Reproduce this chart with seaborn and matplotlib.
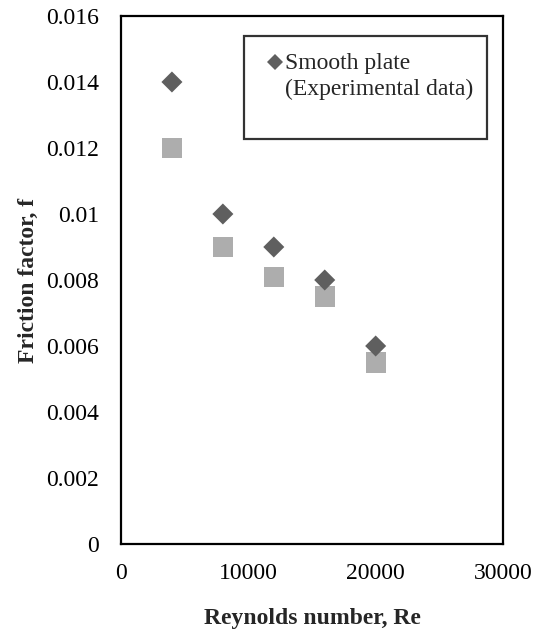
import matplotlib
matplotlib.use("Agg")
import matplotlib.pyplot as plt
import seaborn as sns
import pandas as pd
from matplotlib.lines import Line2D

sns.set_style("white")
plt.rcParams['font.family'] = ['Liberation Serif', 'DejaVu Serif']

reynolds = [4000, 8000, 12000, 16000, 20000]
f_smooth = [0.0140, 0.0100, 0.0090, 0.0080, 0.0060]
f_second = [0.0120, 0.0090, 0.0081, 0.0075, 0.0055]
x_ticks = [0, 10000, 20000, 30000]
y_ticks = [0, 0.002, 0.004, 0.006, 0.008, 0.01, 0.012, 0.014, 0.016]
y_tick_labels = ["0", "0.002", "0.004", "0.006", "0.008", "0.01", "0.012", "0.014", "0.016"]
legend_lines = ["Smooth plate", "(Experimental data)", " "]

dark = "#5f5f5f"
light = "#adadad"

fig = plt.figure(figsize=(5.43, 6.34), dpi=100)
ax = fig.add_axes([121/543, 90/634, 382/543, 528/634])

df1 = pd.DataFrame({"Re": reynolds, "f": f_smooth})
df2 = pd.DataFrame({"Re": reynolds, "f": f_second})
sns.scatterplot(data=df2, x="Re", y="f", marker="s", s=210, color=light,
                edgecolor="none", linewidth=0, ax=ax, legend=False, zorder=3)
sns.scatterplot(data=df1, x="Re", y="f", marker="D", s=115, color=dark,
                edgecolor="none", linewidth=0, ax=ax, legend=False, zorder=4)

ax.set_xlim(0, 30000)
ax.set_ylim(0, 0.016)
ax.set_xticks(x_ticks)
ax.set_xticklabels([str(t) for t in x_ticks])
ax.set_yticks(y_ticks)
ax.set_yticklabels(y_tick_labels)
ax.tick_params(axis="both", direction="out", length=6, width=1.3, colors="black",
               labelsize=17)
ax.tick_params(axis="y", pad=10)
ax.tick_params(axis="x", pad=8)
for sp in ax.spines.values():
    sp.set_visible(True)
    sp.set_color("black")
    sp.set_linewidth(1.6)

ax.set_xlabel("Reynolds number, Re", fontsize=17, fontweight="bold", labelpad=17)
ax.set_ylabel("Friction factor, f", fontsize=17, fontweight="bold", labelpad=5)

h_marker = Line2D([], [], marker="D", linestyle="none", color=dark, markersize=8.5,
                  markeredgewidth=0)
h_blank = Line2D([], [], linestyle="none", marker=None)
leg = ax.legend([h_marker, h_blank, h_blank], legend_lines,
                loc="upper left", bbox_to_anchor=(0.322, 0.773, 0.636, 0.189),
                mode="expand", fontsize=17, frameon=True, fancybox=False,
                handlelength=1.2, handleheight=0.4, handletextpad=-0.18,
                borderpad=0.72, borderaxespad=0, labelspacing=0.22)
leg.get_texts()[2].set_fontsize(7)
leg.get_frame().set_edgecolor("black")
leg.get_frame().set_linewidth(1.6)

fig.savefig("out.png", dpi=100)
